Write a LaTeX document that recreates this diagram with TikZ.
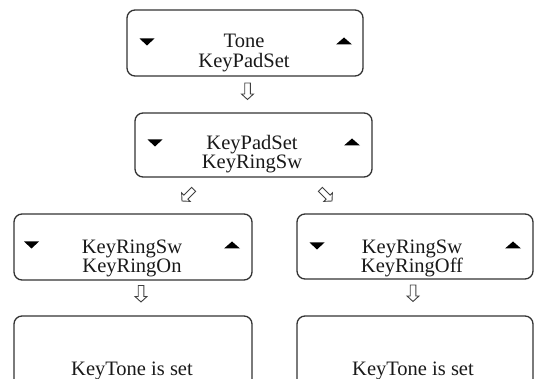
\documentclass[tikz,border=0pt]{standalone}
\usepackage{fontspec}
\setmainfont{Liberation Serif}
\begin{document}
\begin{tikzpicture}[x=1pt,y=-1pt,
  box/.style={draw=black!80, line width=1.3pt, rounded corners=8pt, minimum width=#1, inner sep=0pt},
  lbl/.style={anchor=base, inner sep=0pt, text=black!90, font=\fontsize{20.5}{20}\selectfont},
  downtri/.pic={\fill[black] (-7.5,-3.5) -- (7.5,-3.5) -- (0,3.5) -- cycle;},
  uptri/.pic={\fill[black] (-8,3.5) -- (8,3.5) -- (0,-3.5) -- cycle;},
  harrow/.pic={\draw[black!75, line width=0.9pt, line join=miter] (-2.8,-8) -- (2.8,-8) -- (2.8,3) -- (6,3) -- (0,8.5) -- (-6,3) -- (-2.8,3) -- cycle;}
]
\useasboundingbox (0,0) rectangle (538,379);
\clip (0,0) rectangle (538,379);
% boxes
\node[box=236pt, minimum height=66pt] (b1) at (245,43) {};
\node[box=237pt, minimum height=64pt] (b2) at (253.5,145) {};
\node[box=238pt, minimum height=66pt] (b3) at (133,247) {};
\node[box=236pt, minimum height=65pt] (b4) at (415,246.5) {};
\node[box=238pt, minimum height=90pt] (b5) at (133,361) {};
\node[box=236pt, minimum height=90pt] (b6) at (415,361) {};
% texts
\node[lbl] (t1a) at (244,48) {Tone};
\node[lbl] (t1b) at (244,68) {KeyPadSet};
\node[lbl] (t2a) at (252,150) {KeyPadSet};
\node[lbl] (t2b) at (252,169) {KeyRingSw};
\node[lbl] (t3a) at (132,254) {KeyRingSw};
\node[lbl] (t3b) at (132,273) {KeyRingOn};
\node[lbl] (t4a) at (412,254) {KeyRingSw};
\node[lbl] (t4b) at (412,273) {KeyRingOff};
\node[lbl] (t5) at (132,375) {KeyTone is set};
\node[lbl] (t6) at (413,375) {KeyTone is set};
% triangles
\pic at (147,42) {downtri};
\pic at (344,41) {uptri};
\pic at (155,143) {downtri};
\pic at (352,142) {uptri};
\pic at (31.5,245) {downtri};
\pic at (232,245) {uptri};
\pic at (317,246) {downtri};
\pic at (513,245) {uptri};
% hollow arrows
\pic at (247.5,91) {harrow};
\pic[rotate=-45] at (188,195) {harrow};
\pic[rotate=45] at (326,195) {harrow};
\pic at (141,293.5) {harrow};
\pic at (413,293) {harrow};
\end{tikzpicture}
\end{document}
